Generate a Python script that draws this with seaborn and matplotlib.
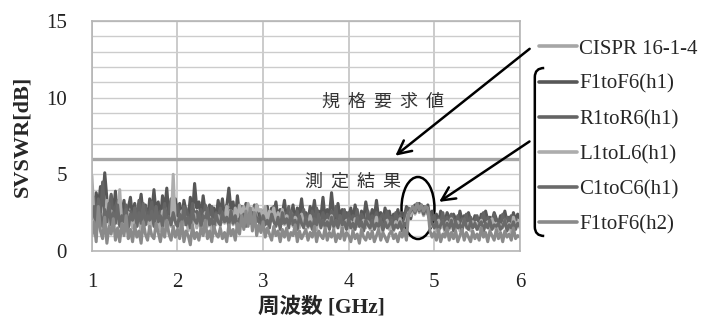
import numpy as np
import pandas as pd
import seaborn as sns
import matplotlib.pyplot as plt
from matplotlib.patches import Ellipse, PathPatch
from matplotlib.path import Path

# frequency grid, 1 to 6 GHz in 0.025 GHz steps
freq = np.round(np.linspace(1.0, 6.0, 201), 3)

# values (dB), one row per 0.25 GHz
cispr = [6.0] * len(freq)

f1f6_h1 = [3.2, 2.5, 3.8, 2.9, 4.2, 3.0, 5.1, 3.4, 2.3, 3.6,
           2.6, 3.9, 2.1, 3.0, 2.4, 3.3, 1.9, 2.8, 3.5, 2.2,
           3.1, 2.0, 2.7, 3.7, 2.3, 3.0, 1.8, 3.4, 2.5, 4.0,
           2.4, 3.2, 2.0, 3.6, 2.6, 4.1, 2.2, 3.0, 2.7, 3.4,
           2.3, 3.1, 2.0, 3.3, 2.6, 2.1, 3.5, 2.4, 4.4, 2.8,
           3.2, 2.2, 3.6, 2.5, 2.0, 3.0, 2.3, 2.8, 2.1, 3.3,
           2.5, 3.4, 2.2, 2.9, 4.1, 2.7, 3.2, 2.0, 3.6, 2.4,
           2.9, 2.1, 3.1, 2.4, 2.0, 2.7, 2.2, 3.0, 2.5, 1.9,
           2.6, 2.2, 2.9, 2.0, 2.8, 2.3, 3.2, 2.1, 2.7, 2.4,
           3.3, 2.0, 2.6, 2.2, 3.0, 1.9, 2.8, 2.4, 3.4, 2.1,
           2.5, 1.9, 2.9, 2.3, 3.3, 2.0, 2.6, 2.2, 3.5, 2.1,
           2.7, 2.3, 3.8, 2.4, 2.0, 3.1, 2.2, 2.7, 1.9, 2.5,
           2.2, 2.8, 2.0, 3.0, 2.3, 1.8, 2.6, 2.1, 3.2, 2.4,
           2.0, 2.7, 2.2, 3.3, 2.1, 2.5, 1.9, 2.8, 2.2, 2.6,
           1.9, 2.4, 2.1, 2.7, 2.0, 2.5, 2.2, 2.9, 2.4, 2.1,
           2.8, 3.0, 2.7, 3.1, 2.8, 2.9, 2.6, 3.0, 2.2, 2.6,
           2.0, 2.4, 1.8, 2.6, 2.1, 1.9, 2.5, 2.2, 1.8, 2.4,
           2.1, 1.7, 2.6, 2.0, 2.3, 1.8, 2.5, 2.0, 1.7, 2.3,
           2.2, 1.8, 2.4, 1.9, 2.6, 2.0, 2.2, 1.7, 2.5, 2.1,
           1.8, 2.3, 2.0, 2.6, 1.9, 2.2, 1.7, 2.5, 2.0, 2.4,
           2.1]

r1r6_h1 = [2.7, 3.5, 2.4, 3.1, 2.0, 4.5, 2.6, 3.0, 2.2, 3.7,
           2.1, 2.9, 3.3, 2.0, 2.7, 1.8, 3.0, 2.3, 2.6, 1.9,
           2.8, 2.2, 3.3, 1.9, 2.5, 2.9, 2.1, 2.6, 3.2, 2.0,
           2.9, 2.0, 2.6, 2.3, 3.1, 1.9, 2.7, 3.4, 2.1, 2.5,
           3.0, 2.1, 2.6, 1.9, 2.8, 2.3, 2.0, 3.1, 2.2, 2.6,
           1.9, 2.7, 2.1, 3.0, 2.4, 1.8, 2.9, 2.0, 2.5, 2.2,
           2.8, 1.9, 2.4, 3.0, 2.1, 2.6, 1.8, 2.7, 2.3, 2.0,
           2.6, 2.2, 1.8, 2.8, 2.0, 2.4, 3.0, 2.1, 1.9, 2.5,
           2.0, 2.7, 1.8, 2.4, 2.1, 2.9, 1.9, 2.5, 2.2, 1.8,
           2.5, 2.1, 2.9, 1.8, 2.4, 2.0, 2.6, 1.9, 2.3, 2.7,
           1.9, 2.4, 2.0, 2.6, 1.8, 2.8, 2.2, 1.9, 2.5, 2.0,
           2.4, 1.8, 2.6, 2.1, 2.9, 1.9, 2.3, 2.0, 2.7, 1.8,
           2.5, 1.9, 2.3, 2.0, 2.7, 1.7, 2.4, 2.1, 1.9, 2.6,
           1.8, 2.3, 2.0, 2.5, 1.7, 2.2, 2.4, 1.9, 2.6, 2.0,
           2.2, 1.8, 2.5, 2.0, 2.3, 1.7, 2.1, 2.6, 2.8, 2.5,
           2.9, 2.6, 3.1, 2.7, 3.0, 2.5, 2.9, 2.7, 2.4, 2.0,
           2.3, 1.7, 2.1, 1.9, 2.5, 1.8, 2.2, 1.6, 2.4, 2.0,
           1.8, 2.3, 1.6, 2.1, 1.9, 2.4, 1.7, 2.2, 1.9, 2.0,
           2.3, 1.7, 2.0, 2.5, 1.8, 2.2, 1.6, 2.1, 2.4, 1.8,
           2.0, 1.7, 2.4, 1.8, 2.2, 1.6, 2.3, 1.9, 2.1, 1.7,
           1.9]

l1l6_h1 = [4.9, 2.2, 1.5, 2.8, 1.8, 2.4, 1.3, 3.3, 1.7, 2.6,
           1.4, 2.3, 1.8, 4.0, 1.6, 2.1, 1.3, 2.5, 1.9, 1.5,
           2.4, 1.6, 2.0, 1.3, 2.7, 1.7, 2.2, 1.4, 1.9, 2.3,
           1.5, 2.1, 1.3, 2.6, 1.8, 1.4, 2.2, 1.6, 5.0, 1.7,
           2.0, 1.4, 2.6, 1.7, 2.2, 1.3, 2.0, 1.6, 2.4, 1.5,
           2.1, 1.4, 1.9, 2.5, 1.6, 2.2, 1.3, 2.0, 1.7, 2.3,
           1.6, 2.4, 1.8, 2.9, 2.0, 2.6, 1.7, 2.8, 2.2, 3.0,
           2.4, 2.9, 2.2, 3.1, 2.5, 2.8, 2.3, 3.0, 2.6, 2.7,
           2.2, 2.9, 1.9, 2.6, 2.3, 2.8, 1.8, 2.5, 2.1, 2.7,
           1.7, 2.3, 1.9, 2.5, 1.6, 2.2, 2.0, 1.5, 2.4, 1.8,
           2.1, 1.5, 2.3, 1.8, 2.0, 1.4, 2.2, 1.7, 1.9, 1.5,
           2.0, 1.6, 2.3, 1.4, 1.9, 1.7, 2.1, 1.3, 1.8, 2.0,
           1.5, 1.9, 1.3, 2.1, 1.6, 1.8, 1.4, 2.0, 1.5, 1.9,
           1.4, 1.8, 1.6, 2.2, 1.3, 1.9, 1.5, 1.7, 2.0, 1.4,
           1.8, 1.3, 1.9, 1.5, 2.1, 1.4, 1.7, 2.0, 2.5, 2.3,
           2.7, 2.4, 2.9, 2.5, 2.8, 2.3, 2.6, 2.4, 1.9, 1.6,
           1.7, 1.3, 2.0, 1.5, 1.8, 1.2, 1.9, 1.4, 2.1, 1.6,
           1.4, 1.9, 1.3, 1.7, 2.0, 1.5, 1.8, 1.3, 1.9, 1.6,
           1.8, 1.4, 2.0, 1.3, 1.7, 1.9, 1.4, 2.1, 1.5, 1.8,
           1.3, 1.7, 1.5, 2.0, 1.4, 1.8, 1.2, 2.2, 1.6, 1.9,
           1.5]

c1c6_h1 = [2.1, 2.9, 1.7, 3.4, 2.3, 1.6, 2.7, 1.9, 3.1, 1.7,
           2.5, 1.8, 3.0, 1.6, 2.3, 1.9, 2.7, 1.5, 2.4, 2.0,
           2.8, 1.6, 2.5, 1.8, 3.1, 1.7, 2.3, 2.0, 2.6, 1.6,
           2.9, 1.9, 2.3, 1.6, 2.7, 2.0, 2.2, 1.7, 2.5, 1.9,
           1.6, 2.4, 1.8, 2.9, 1.7, 2.2, 1.5, 2.6, 2.0, 1.8,
           2.5, 1.6, 2.3, 1.9, 2.8, 1.7, 2.1, 1.5, 2.4, 1.9,
           1.7, 2.5, 1.9, 2.2, 1.6, 2.6, 1.8, 2.3, 1.5, 2.1,
           1.9, 2.4, 1.6, 2.2, 1.8, 2.5, 1.7, 2.1, 1.9, 1.6,
           2.3, 1.7, 2.0, 1.5, 2.4, 1.9, 1.6, 2.2, 1.4, 2.5,
           1.8, 2.1, 1.5, 2.6, 1.7, 2.0, 1.4, 2.3, 1.8, 1.5,
           2.2, 1.6, 1.9, 1.4, 2.1, 1.7, 2.4, 1.5, 2.0, 1.6,
           1.9, 1.4, 2.2, 1.6, 2.0, 1.5, 2.3, 1.7, 1.9, 1.4,
           2.1, 1.5, 1.8, 1.4, 2.2, 1.6, 1.9, 1.3, 2.0, 1.7,
           1.5, 2.0, 1.4, 1.8, 1.6, 2.1, 1.3, 1.9, 1.5, 1.7,
           2.0, 1.4, 1.7, 1.5, 1.9, 1.3, 1.8, 1.6, 2.4, 2.6,
           2.8, 2.5, 3.0, 2.6, 2.9, 2.4, 2.8, 2.5, 2.0, 1.8,
           1.5, 1.9, 1.3, 1.7, 2.0, 1.4, 1.8, 1.5, 2.0, 1.3,
           1.9, 1.5, 1.7, 1.3, 2.1, 1.6, 1.4, 1.9, 1.5, 1.8,
           1.4, 1.7, 1.9, 1.3, 1.8, 1.5, 2.0, 1.4, 1.7, 1.6,
           1.8, 1.4, 1.6, 2.0, 1.3, 1.7, 1.5, 1.9, 1.4, 1.8,
           1.6]

f1f6_h2 = [1.0, 1.9, 0.6, 2.9, 1.3, 0.8, 2.2, 0.5, 1.6, 1.1,
           2.1, 0.7, 1.5, 0.6, 1.8, 1.0, 2.3, 0.8, 1.4, 0.6,
           1.7, 0.9, 1.3, 0.5, 1.9, 1.1, 0.7, 1.6, 1.0, 0.8,
           1.8, 1.2, 0.6, 1.5, 0.9, 2.0, 1.1, 0.7, 1.6, 0.9,
           1.4, 0.8, 1.9, 0.6, 1.3, 1.0, 0.4, 1.7, 0.8, 1.2,
           0.7, 1.5, 1.0, 2.0, 0.8, 1.3, 0.6, 1.6, 1.1, 0.9,
           1.5, 0.8, 1.2, 0.6, 1.7, 1.0, 1.4, 0.7, 1.8, 1.1,
           2.3, 1.4, 2.6, 1.6, 2.8, 1.3, 2.5, 1.0, 1.7, 1.2,
           1.9, 0.9, 1.5, 1.1, 0.7, 1.6, 1.0, 1.3, 0.6, 1.4,
           0.9, 1.5, 0.7, 1.2, 1.0, 1.7, 0.6, 1.3, 0.8, 1.1,
           1.4, 0.7, 1.2, 0.9, 1.6, 0.6, 1.3, 1.0, 0.8, 1.5,
           0.7, 1.2, 0.9, 1.4, 0.6, 1.1, 0.8, 1.5, 0.7, 1.2,
           1.0, 0.6, 1.3, 0.8, 1.1, 0.5, 1.4, 0.9, 0.7, 1.2,
           0.8, 1.3, 0.6, 1.0, 1.4, 0.7, 1.2, 0.9, 0.6, 1.1,
           1.3, 0.8, 1.1, 0.6, 1.2, 0.9, 1.4, 0.7, 2.4, 2.7,
           2.9, 2.6, 3.1, 2.7, 3.0, 2.6, 2.9, 2.8, 1.3, 0.9,
           1.2, 0.7, 1.4, 0.6, 1.1, 0.9, 1.5, 0.7, 1.2, 0.8,
           1.3, 0.6, 1.0, 1.4, 0.7, 1.2, 0.9, 0.6, 1.3, 0.8,
           1.1, 0.7, 1.5, 0.9, 1.2, 0.6, 1.3, 1.0, 0.7, 1.4,
           0.8, 1.2, 0.6, 1.3, 0.9, 1.1, 0.7, 1.5, 0.8, 1.0,
           0.9]

series_names = ['CISPR 16-1-4', 'F1toF6(h1)', 'R1toR6(h1)',
                'L1toL6(h1)', 'C1toC6(h1)', 'F1toF6(h2)']
series_values = [cispr, f1f6_h1, r1r6_h1, l1l6_h1, c1c6_h1, f1f6_h2]
colors = ['#a6a6a6', '#575757', '#646464', '#adadad', '#6a6a6a', '#8a8a8a']

df = pd.concat([pd.DataFrame({'freq': freq, 'svswr': v, 'series': n})
                for n, v in zip(series_names, series_values)])

sns.set_style('white')
plt.rcParams['font.family'] = ['Liberation Serif', 'Noto Sans CJK JP']

fig, ax = plt.subplots(figsize=(7.18, 3.25), dpi=100)
fig.subplots_adjust(left=0.128, right=0.724, bottom=0.228, top=0.935)

sns.lineplot(data=df, x='freq', y='svswr', hue='series', hue_order=series_names,
             palette=colors, linewidth=2.2, ax=ax)
# the limit line is thicker
ax.lines[0].set_linewidth(2.4)

ax.set_xlim(1, 6)
ax.set_ylim(0, 15)
ax.set_xticks([1, 2, 3, 4, 5, 6])
ax.set_yticks([0, 5, 10, 15])
ax.set_yticks(range(0, 16), minor=True)
ax.grid(which='major', axis='x', color='#bdbdbd', lw=1.1)
ax.grid(which='both', axis='y', color='#cccccc', lw=1.0)
ax.set_axisbelow(True)
for s in ax.spines.values():
    s.set_color('#b5b5b5')
    s.set_linewidth(1.2)
ax.tick_params(axis='both', which='both', length=0, labelsize=15, colors='#222222')
ax.tick_params(axis='y', pad=18)
ax.tick_params(axis='x', pad=16)

ax.set_xlabel('周波数 [GHz]', fontsize=15.5, fontweight='bold', va='top')
ax.xaxis.set_label_coords(0.537, -0.2)
ax.set_ylabel('SVSWR[dB]', fontsize=16, fontweight='bold', labelpad=10)

handles, labels = ax.get_legend_handles_labels()
for h in handles:
    h.set_linewidth(2.6)
ax.legend(handles, labels, loc='upper left', bbox_to_anchor=(1.045, 0.922),
          frameon=False, fontsize=15, handlelength=1.8, handletextpad=0.12,
          labelspacing=0.75, borderpad=0, borderaxespad=0)

# annotations
ax.text(3.69, 9.75, '規  格  要  求  値', fontsize=13, va='center', color='#333333',
        family=['Noto Sans CJK JP'])
ax.text(3.49, 4.55, '測  定  結  果', fontsize=13, va='center', color='#333333',
        family=['Noto Sans CJK JP'])
ax.annotate('', xy=(4.52, 6.1), xytext=(1.028, 0.887), textcoords='axes fraction',
            arrowprops=dict(arrowstyle='->', lw=1.8, color='black', mutation_scale=24),
            annotation_clip=False)
ax.annotate('', xy=(5.03, 3.1), xytext=(1.028, 0.483), textcoords='axes fraction',
            arrowprops=dict(arrowstyle='->', lw=1.8, color='black', mutation_scale=24),
            annotation_clip=False)
ax.add_patch(Ellipse((4.81, 2.8), 0.385, 4.05, fill=False, lw=1.8, color='black'))

# bracket grouping the measured series
bx, top, mid, bot = 1.035, 0.796, 0.483, 0.065
verts = [(bx + 0.022, top), (bx, top), (bx, top - 0.04),
         (bx, mid), (bx, bot + 0.04),
         (bx, bot), (bx + 0.022, bot)]
codes = [Path.MOVETO, Path.CURVE3, Path.CURVE3,
         Path.LINETO, Path.LINETO,
         Path.CURVE3, Path.CURVE3]
ax.add_patch(PathPatch(Path(verts, codes), fill=False, lw=1.8, color='black',
                       transform=ax.transAxes, clip_on=False))

fig.savefig('out.png', dpi=100)
